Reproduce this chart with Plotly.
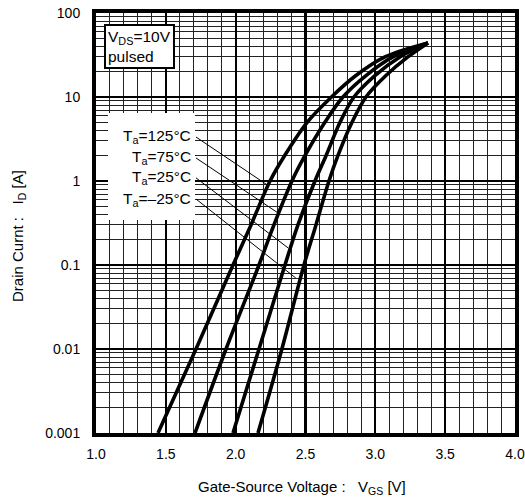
import plotly.graph_objects as go

# ---- data ----
current_a = [0.001, 0.01, 0.1, 0.3, 1, 2, 5, 10, 18, 30, 44]
vgs_125 = [1.444, 1.716, 1.981, 2.110, 2.246, 2.350, 2.512, 2.686, 2.861, 3.069, 3.377]
vgs_75 = [1.709, 1.931, 2.167, 2.274, 2.403, 2.496, 2.639, 2.768, 2.933, 3.126, 3.377]
vgs_25 = [1.981, 2.167, 2.353, 2.446, 2.568, 2.647, 2.747, 2.847, 2.997, 3.176, 3.377]
vgs_m25 = [2.160, 2.331, 2.489, 2.575, 2.668, 2.732, 2.833, 2.933, 3.076, 3.233, 3.377]

series_labels = ["T<sub>a</sub>=125°C", "T<sub>a</sub>=75°C", "T<sub>a</sub>=25°C", "T<sub>a</sub>=\u201325°C"]
leader_start_v = [1.716, 1.716, 1.716, 1.716]
leader_start_i = [3.34, 1.88, 1.09, 0.61]
leader_tip_v = [2.225, 2.30, 2.375, 2.43]
leader_tip_i = [0.9, 0.42, 0.16, 0.07]

x_ticks = [1.0, 1.5, 2.0, 2.5, 3.0, 3.5, 4.0]
y_ticks = [0.001, 0.01, 0.1, 1, 10, 100]
y_tick_text = ["0.001", "0.01", "0.1", "1", "10", "100"]

FONT = "Arial, Liberation Sans, sans-serif"
NB = "\u00a0"

fig = go.Figure()
for v in [vgs_125, vgs_75, vgs_25, vgs_m25]:
    fig.add_trace(go.Scatter(x=v, y=current_a, mode="lines",
                             line=dict(color="black", width=3.6, shape="spline", smoothing=0.9),
                             showlegend=False, hoverinfo="skip"))

W, H = 525, 498
ml, mr, mt, mb = 96, 10, 13, 65

fig.update_layout(
    width=W, height=H,
    margin=dict(l=ml, r=mr, t=mt, b=mb, autoexpand=False),
    paper_bgcolor="white", plot_bgcolor="white",
    font=dict(family=FONT, size=14, color="black"),
    showlegend=False,
)
fig.update_xaxes(
    range=[1.0, 4.0], tickvals=x_ticks, ticktext=[f"{t:.1f}" for t in x_ticks],
    showgrid=True, gridcolor="black", gridwidth=2.2,
    minor=dict(dtick=0.1, showgrid=True, gridcolor="#222", gridwidth=1),
    showline=True, linecolor="black", linewidth=4, mirror=True,
    ticks="outside", ticklen=5, tickcolor="rgba(0,0,0,0)",
    tickfont=dict(size=14, family=FONT),
    zeroline=False,
)
fig.update_yaxes(
    type="log", range=[-3, 2], tickvals=y_ticks, ticktext=y_tick_text,
    showgrid=True, gridcolor="black", gridwidth=2.2,
    minor=dict(dtick="D1", showgrid=True, gridcolor="#222", gridwidth=1),
    showline=True, linecolor="black", linewidth=4, mirror=True,
    ticks="outside", ticklen=9, tickcolor="rgba(0,0,0,0)",
    tickfont=dict(size=14, family=FONT),
    zeroline=False,
)

pw = W - ml - mr
ph = H - mt - mb
def px(xpix):
    return (xpix - ml) / pw
def py(ypix):
    return 1 - (ypix - mt) / ph

# axis titles
fig.add_annotation(xref="paper", yref="paper", x=px(302), y=py(487), xanchor="center", yanchor="middle",
                   text="Gate-Source Voltage :" + NB * 3 + "V<sub>GS</sub> [V]", showarrow=False,
                   font=dict(size=15, family=FONT))
fig.add_annotation(xref="paper", yref="paper", x=px(18), y=py(236), xanchor="center", yanchor="middle",
                   text="Drain Curnt :" + NB * 3 + "I<sub>D</sub> [A]", showarrow=False, textangle=-90,
                   font=dict(size=15, family=FONT))

# V_DS box
fig.add_annotation(xref="paper", yref="paper", x=px(104), y=py(24), xanchor="left", yanchor="top",
                   text="V<sub>DS</sub>=10V<br>pulsed", showarrow=False, align="left",
                   font=dict(size=15.5, family=FONT), bgcolor="white", bordercolor="black",
                   borderwidth=2, borderpad=2)

# white panel behind temperature labels
fig.add_shape(type="rect", xref="paper", yref="paper", x0=px(108), x1=px(195), y0=py(220), y1=py(113),
              fillcolor="white", line=dict(width=0), layer="above")

label_rows = [136, 157, 178, 199]
for lab, ypix in zip(series_labels, label_rows):
    fig.add_annotation(xref="paper", yref="paper", x=px(193), y=py(ypix), xanchor="right", yanchor="middle",
                       text=lab, showarrow=False, font=dict(size=15.5, family=FONT))
for x0, y0, x1, y1 in zip(leader_start_v, leader_start_i, leader_tip_v, leader_tip_i):
    fig.add_shape(type="line", xref="x", yref="y", x0=x0, y0=y0, x1=x1, y1=y1,
                  line=dict(color="black", width=1), layer="above")

fig.write_html("out.html", config={"displayModeBar": False, "staticPlot": True},
               post_script="document.body.style.margin='0';document.body.style.padding='0';")
